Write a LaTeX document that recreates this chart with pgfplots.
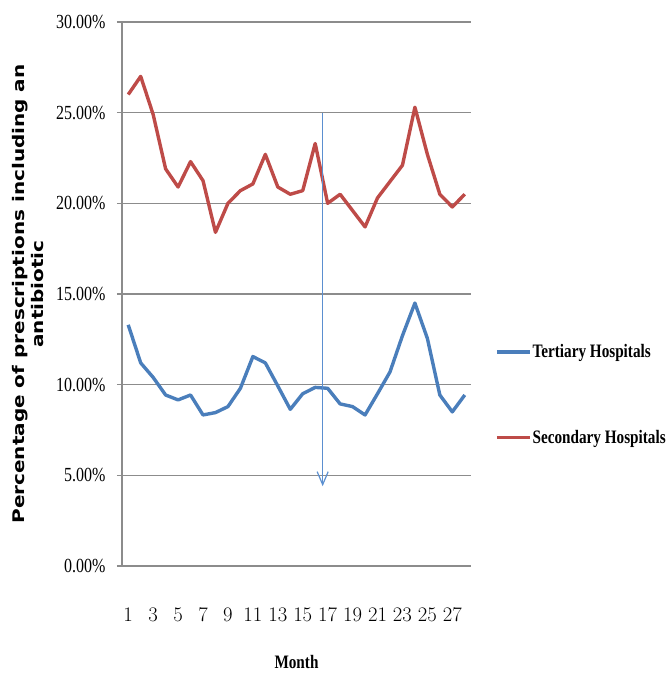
\documentclass[border=0pt]{standalone}
\usepackage{pgfplots}
\pgfplotsset{compat=1.18}
\usepackage{fontspec}
\setmainfont{Liberation Serif}[FakeStretch=0.8]
\newfontfamily\ylabfont{DejaVu Sans}
\usetikzlibrary{arrows.meta}
\definecolor{tblue}{HTML}{4A7EBB}
\definecolor{sred}{HTML}{BE4B48}
\definecolor{gridg}{HTML}{8C8C8C}
\definecolor{arrowblue}{HTML}{5B8FD0}
\pgfplotstableread{
m v
1 13.3
2 11.2
3 10.4
4 9.43
5 9.16
6 9.43
7 8.33
8 8.46
9 8.79
10 9.8
11 11.55
12 11.2
13 9.93
14 8.64
15 9.5
16 9.85
17 9.8
18 8.94
19 8.79
20 8.33
21 9.5
22 10.7
23 12.7
24 14.5
25 12.55
26 9.43
27 8.5
28 9.43
}\tertiary
\pgfplotstableread{
m v
1 26.0
2 27.0
3 24.9
4 21.9
5 20.9
6 22.3
7 21.25
8 18.4
9 20.0
10 20.7
11 21.07
12 22.7
13 20.9
14 20.5
15 20.7
16 23.3
17 20.0
18 20.5
19 19.6
20 18.7
21 20.3
22 21.2
23 22.1
24 25.3
25 22.7
26 20.5
27 19.8
28 20.5
}\secondary
\begin{document}
\begin{tikzpicture}
\useasboundingbox (-122bp,-108bp) rectangle (546bp,566bp);
\begin{axis}[
  at={(0,0)}, anchor=south west,
  scale only axis,
  width=349bp, height=544bp,
  xmin=0.5, xmax=28.5,
  ymin=0, ymax=30,
  axis x line*=bottom, axis y line*=left,
  axis line style={draw=gridg, line width=1.3bp, -},
  xtick={1,3,...,27},
  ytick={0,5,...,30},
  yticklabels={0.00\%,5.00\%,10.00\%,15.00\%,20.00\%,25.00\%,30.00\%},
  tick align=outside,
  x tick style={draw=none},
  y tick style={draw=gridg, line width=1.3bp},
  major tick length=5bp,
  ymajorgrids,
  grid style={draw=gridg, line width=1.5bp},
  tick label style={font=\fontsize{20bp}{22bp}\selectfont},
  yticklabel style={xshift=-8bp},
  xticklabel style={yshift=-34bp},
  xlabel={\bfseries Month},
  xlabel style={font=\fontsize{19bp}{22bp}\selectfont, at={(axis description cs:0.5,0)}, anchor=center, yshift=-96bp},
  ylabel={Percentage of prescriptions including an\\antibiotic},
  ylabel style={font=\ylabfont\bfseries\fontsize{20bp}{24bp}\selectfont, align=center, at={(axis description cs:-0.269,0.5)}, anchor=center, yscale=0.8},
  legend cell align=left,
  legend style={at={(axis description cs:1.069,0.315)}, anchor=west, draw=none, fill=none,
    font=\bfseries\fontsize{19bp}{22bp}\selectfont, row sep=69bp, inner sep=0pt,
    nodes={inner sep=1bp}},
  legend image code/.code={\draw[#1] (0bp,0bp) -- (33bp,0bp);},
]
\addplot[tblue, line width=3.4bp, line join=round] table[x=m,y=v] {\tertiary};
\addlegendentry{Tertiary Hospitals}
\addplot[sred, line width=3.4bp, line join=round] table[x=m,y=v] {\secondary};
\addlegendentry{Secondary Hospitals}
\draw[arrowblue, line width=1.2bp, -{Straight Barb[length=13bp,width=11bp]}] (axis cs:16.6,25) -- (axis cs:16.6,4.4);
\end{axis}
\end{tikzpicture}
\end{document}
